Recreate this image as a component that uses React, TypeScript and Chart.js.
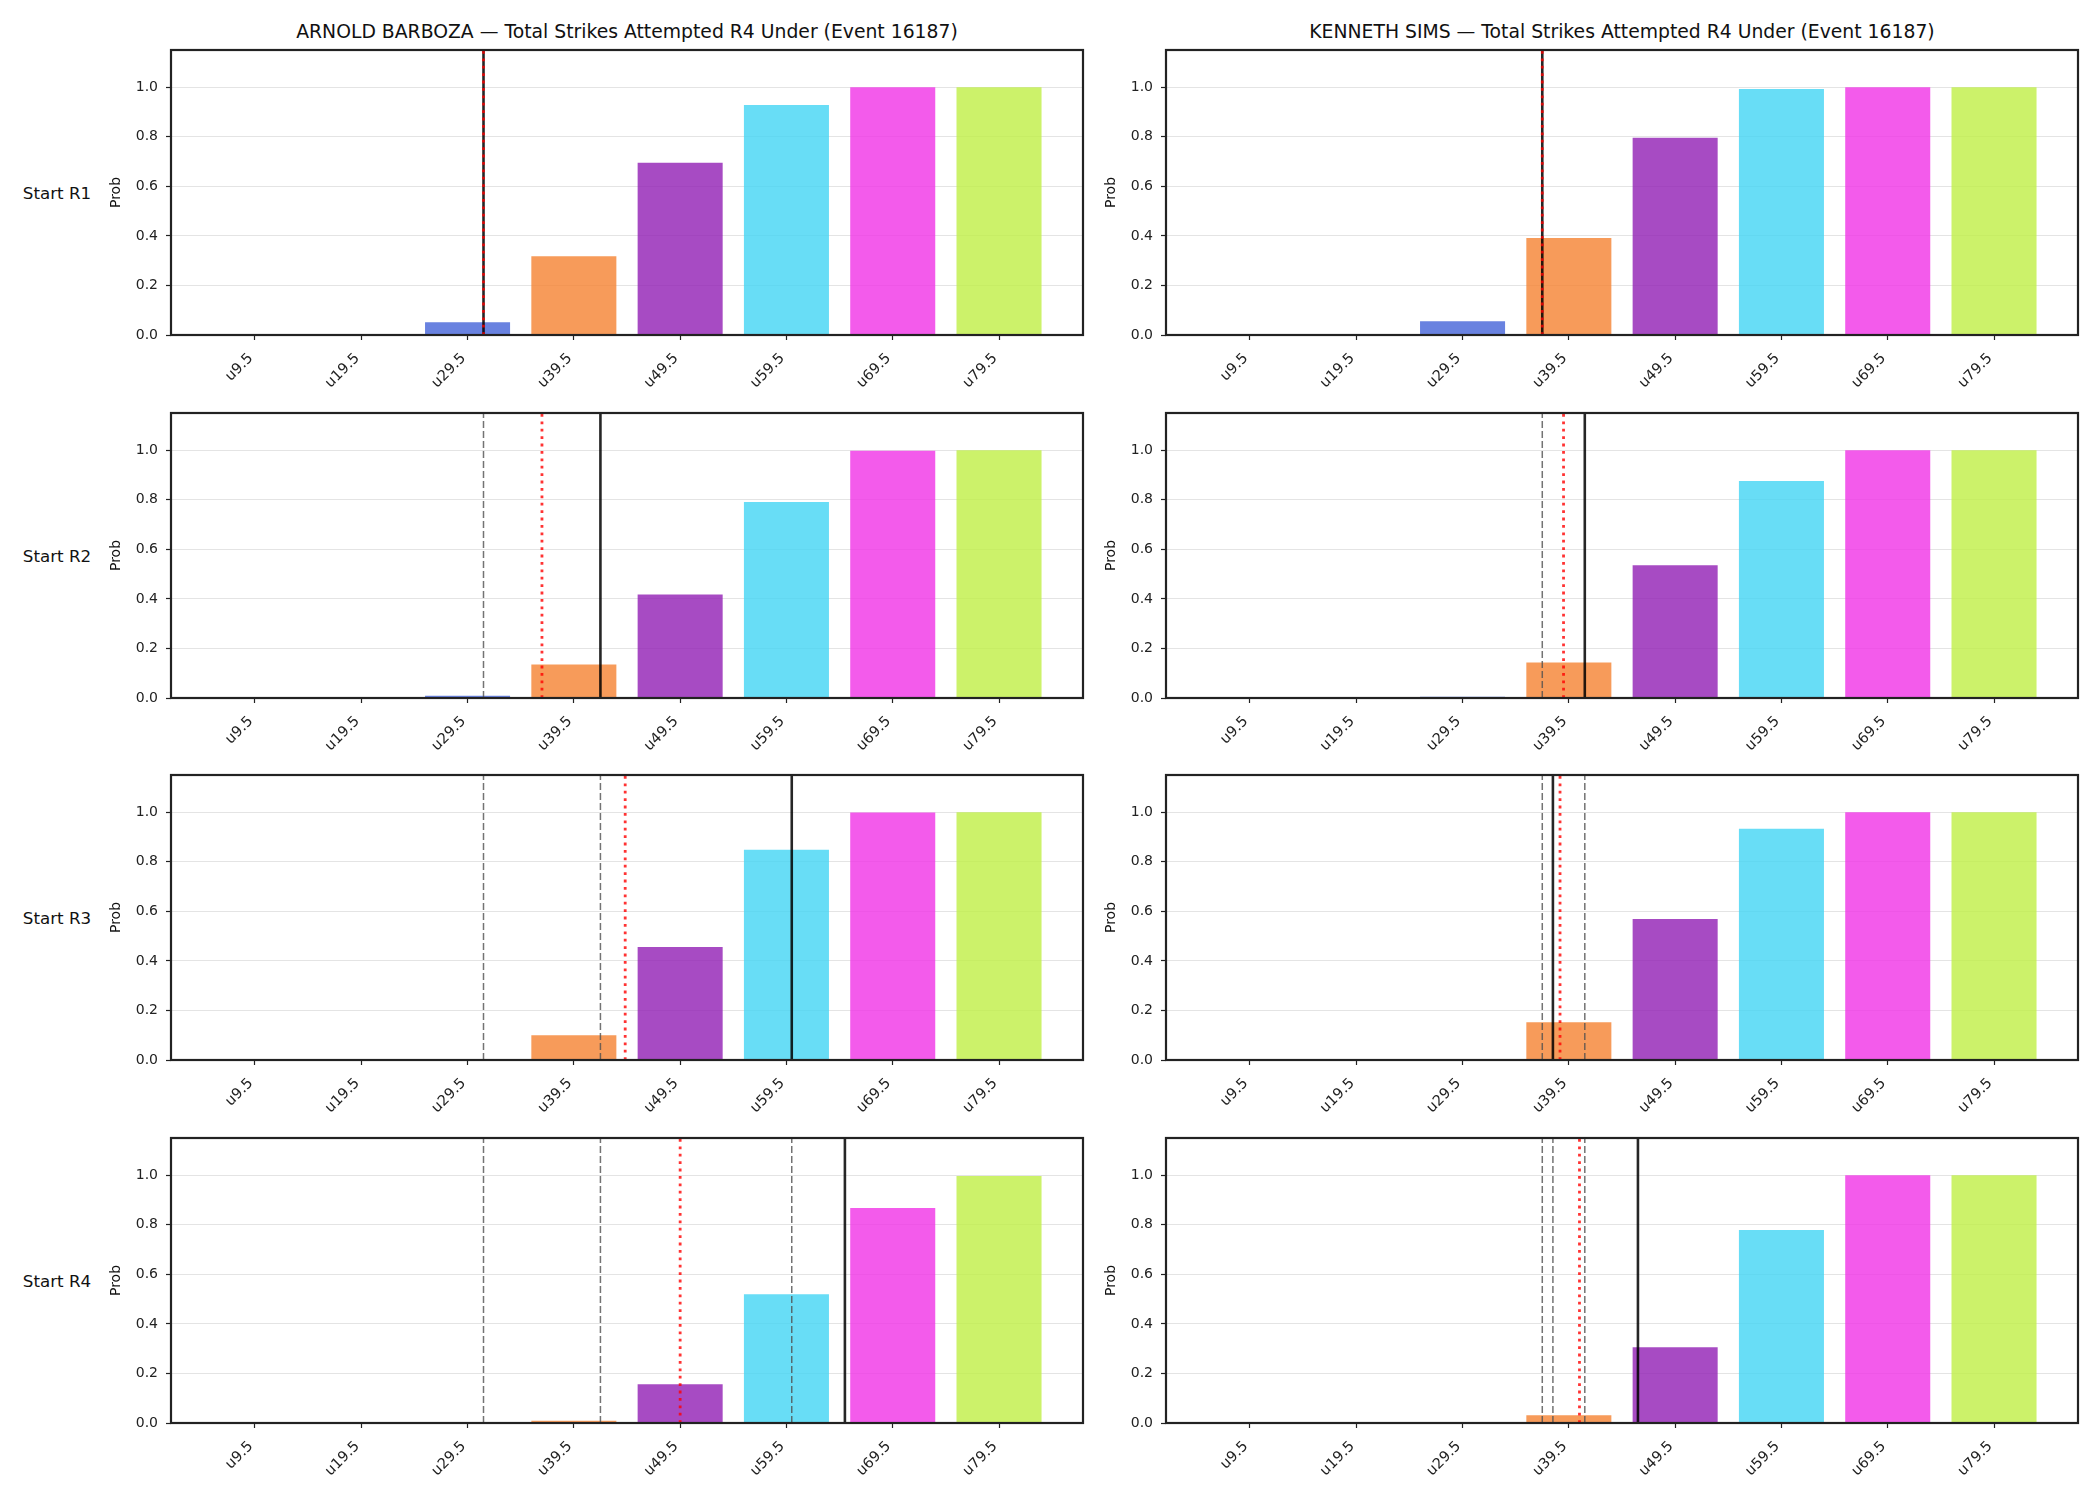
import React, { useEffect, useRef } from "react";
import { Chart, registerables } from "chart.js";

Chart.register(...registerables);

const FONT = "'DejaVu Sans', sans-serif";

// ---- data ----
const fighters = ["ARNOLD BARBOZA", "KENNETH SIMS"];
const marketName = "Total Strikes Attempted R4 Under";
const eventId = 16187;
const rowLabels = ["Start R1", "Start R2", "Start R3", "Start R4"];

const thresholds = [9.5, 19.5, 29.5, 39.5, 49.5, 59.5, 69.5, 79.5];
const tickLabels = ["u9.5", "u19.5", "u29.5", "u39.5", "u49.5", "u59.5", "u69.5", "u79.5"];
const barColors = ["#3cb44b", "#ffe119", "#4363d8", "#f58231", "#911eb4", "#42d4f4", "#f032e6", "#bfef45"];
const yTicks = [0, 0.2, 0.4, 0.6, 0.8, 1.0];

// P(under) per threshold, at the start of each round
const barbozaR1 = [0, 0, 0.051, 0.318, 0.695, 0.928, 1.0, 1.0];
const barbozaR2 = [0, 0, 0.009, 0.135, 0.418, 0.791, 0.998, 1.0];
const barbozaR3 = [0, 0, 0.001, 0.1, 0.456, 0.848, 0.999, 1.0];
const barbozaR4 = [0, 0, 0, 0.009, 0.156, 0.52, 0.868, 0.997];

const simsR1 = [0, 0, 0.055, 0.391, 0.796, 0.993, 1.0, 1.0];
const simsR2 = [0, 0, 0.005, 0.143, 0.536, 0.876, 1.0, 1.0];
const simsR3 = [0, 0, 0.002, 0.152, 0.569, 0.933, 1.0, 1.0];
const simsR4 = [0, 0, 0, 0.031, 0.306, 0.779, 1.0, 1.0];

// projected strike totals at each round start, and their running mean
const barbozaProjected = [31, 42, 60, 65];
const barbozaMean = [31, 36.5, 44.33, 49.5];
const simsProjected = [37, 41, 38, 46];
const simsMean = [37, 39, 38.67, 40.5];

// ---- layout ----
const COL_LEFT = [171, 1166];
const ROW_TOP = [50, 413, 775, 1138];
const PLOT_W = 912;
const PLOT_H = 285;
const PAD_L = 120;
const PAD_T = 45;
const PAD_R = 15;
const PAD_B = 75;

const rgba = (hex: string, a: number) => {
  const n = parseInt(hex.slice(1), 16);
  return `rgba(${(n >> 16) & 255},${(n >> 8) & 255},${n & 255},${a})`;
};

type PanelProps = {
  left: number;
  top: number;
  probs: number[];
  projected: number[];
  mean: number[];
  round: number;
};

function Panel({ left, top, probs, projected, mean, round }: PanelProps) {
  const ref = useRef<HTMLCanvasElement>(null);

  useEffect(() => {
    const canvas = ref.current;
    if (!canvas) return;

    const overlay = {
      id: "panelOverlay",
      afterDatasetsDraw(chart: any) {
        const { ctx, chartArea: a, scales } = chart;
        const xs = scales.x;
        ctx.save();
        ctx.beginPath();
        ctx.rect(a.left, a.top, a.right - a.left, a.bottom - a.top);
        ctx.clip();
        const vline = (v: number, color: string, width: number, dash: number[]) => {
          const px = xs.getPixelForValue(v);
          ctx.beginPath();
          ctx.setLineDash(dash);
          ctx.lineCap = "butt";
          ctx.strokeStyle = color;
          ctx.lineWidth = width;
          ctx.moveTo(px, a.bottom);
          ctx.lineTo(px, a.top);
          ctx.stroke();
        };
        for (let i = 0; i < round; i++) vline(projected[i], "rgba(80,80,80,0.8)", 1.5, [7, 3]);
        vline(projected[round], "rgba(0,0,0,0.85)", 2.6, []);
        vline(mean[round], "rgba(255,0,0,0.8)", 2.8, [2.8, 4.6]);
        ctx.restore();

        ctx.save();
        ctx.strokeStyle = "#222";
        ctx.lineWidth = 2.2;
        ctx.setLineDash([]);
        ctx.strokeRect(a.left, a.top, a.right - a.left, a.bottom - a.top);
        ctx.restore();

        ctx.save();
        ctx.translate(a.left - 54.5, (a.top + a.bottom) / 2);
        ctx.rotate(-Math.PI / 2);
        ctx.font = `14px ${FONT}`;
        ctx.fillStyle = "#111";
        ctx.textAlign = "center";
        ctx.textBaseline = "middle";
        ctx.fillText("Prob", 0, 0);
        ctx.restore();
      },
    };

    const chart = new Chart(canvas, {
      type: "bar",
      data: {
        datasets: [
          {
            data: thresholds.map((t, i) => ({ x: t, y: probs[i] })),
            backgroundColor: barColors.map((c) => rgba(c, 0.8)),
            borderWidth: 0,
            categoryPercentage: 1,
            barPercentage: 0.8,
          },
        ],
      },
      options: {
        animation: false,
        responsive: false,
        devicePixelRatio: 1,
        layout: { padding: { left: 0, top: PAD_T, right: PAD_R, bottom: 0 } },
        plugins: { legend: { display: false }, tooltip: { enabled: false }, title: { display: false } },
        scales: {
          x: {
            type: "linear",
            min: 1.6,
            max: 87.4,
            offset: false,
            afterBuildTicks: (axis: any) => {
              axis.ticks = thresholds.map((v) => ({ value: v }));
            },
            afterFit: (axis: any) => {
              axis.height = PAD_B;
            },
            ticks: {
              autoSkip: false,
              minRotation: 45,
              maxRotation: 45,
              padding: 10,
              labelOffset: -4,
              color: "#222",
              font: { family: FONT, size: 14.5 },
              callback: (v: any) => tickLabels[thresholds.indexOf(Number(v))] ?? "",
            },
            grid: {
              offset: false,
              drawOnChartArea: false,
              drawTicks: true,
              tickLength: 5,
              tickColor: "#222",
              tickWidth: 1.2,
            },
            border: { display: false },
          },
          y: {
            min: 0,
            max: 1.15,
            afterBuildTicks: (axis: any) => {
              axis.ticks = yTicks.map((v) => ({ value: v }));
            },
            afterFit: (axis: any) => {
              axis.width = PAD_L;
            },
            ticks: {
              padding: 8,
              color: "#222",
              font: { family: FONT, size: 14 },
              callback: (v: any) => Number(v).toFixed(1),
            },
            grid: {
              color: "#e4e4e4",
              lineWidth: 1,
              drawTicks: true,
              tickLength: 5,
              tickColor: "#222",
              tickWidth: 1.2,
            },
            border: { display: false },
          },
        },
      },
      plugins: [overlay],
    } as any);

    return () => chart.destroy();
  }, [probs, projected, mean, round]);

  const w = PAD_L + PLOT_W + PAD_R;
  const h = PAD_T + PLOT_H + PAD_B;
  return (
    <canvas
      ref={ref}
      width={w}
      height={h}
      style={{ position: "absolute", left: left - PAD_L, top: top - PAD_T, width: w, height: h }}
    />
  );
}

export default function App() {
  const probs = [
    [barbozaR1, simsR1],
    [barbozaR2, simsR2],
    [barbozaR3, simsR3],
    [barbozaR4, simsR4],
  ];
  const projected = [barbozaProjected, simsProjected];
  const means = [barbozaMean, simsMean];

  return (
    <div
      style={{
        position: "absolute",
        left: 0,
        top: 0,
        width: 2100,
        height: 1500,
        background: "#fff",
        fontFamily: FONT,
        color: "#111",
        overflow: "hidden",
      }}
    >
      {fighters.map((name, c) => (
        <div
          key={`t${c}`}
          style={{
            position: "absolute",
            left: COL_LEFT[c],
            width: PLOT_W,
            top: 21,
            lineHeight: "22px",
            fontSize: 18.8,
            textAlign: "center",
            whiteSpace: "nowrap",
          }}
        >
          {`${name} — ${marketName} (Event ${eventId})`}
        </div>
      ))}
      {rowLabels.map((lab, r) => (
        <div
          key={`r${r}`}
          style={{
            position: "absolute",
            left: 0,
            width: 114,
            top: ROW_TOP[r] + PLOT_H / 2 - 10,
            lineHeight: "20px",
            fontSize: 16.7,
            textAlign: "center",
            whiteSpace: "nowrap",
          }}
        >
          {lab}
        </div>
      ))}
      {ROW_TOP.map((top, r) =>
        COL_LEFT.map((left, c) => (
          <Panel
            key={`p${r}${c}`}
            left={left}
            top={top}
            probs={probs[r][c]}
            projected={projected[c]}
            mean={means[c]}
            round={r}
          />
        ))
      )}
    </div>
  );
}
